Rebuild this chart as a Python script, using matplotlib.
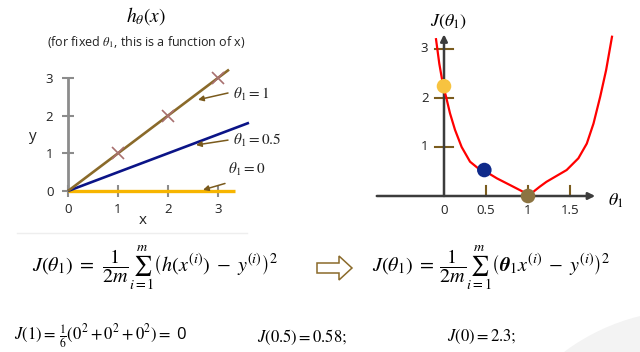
import matplotlib

matplotlib.use("Agg")
import matplotlib.pyplot as plt
from matplotlib.patches import FancyArrow, Circle

plt.rcParams["mathtext.fontset"] = "stix"
plt.rcParams["font.family"] = ["Open Sans", "DejaVu Sans"]

W, H = 640, 352

# --- datos: h_theta(x) para tres valores de theta1 ---
train_x = [1, 2, 3]
train_y = [1, 2, 3]
lines_x_end = {"1": 3.22, "0.5": 3.62, "0": 3.34}
slopes = {"1": 1.0, "0.5": 0.5, "0": 0.0}
line_colors = {"1": "#8a6a2a", "0.5": "#0b1487", "0": "#f7b500"}

# --- datos: curva de costo J(theta1) ---
theta_curve = [-0.095, -0.056, -0.008, 0.024, 0.071, 0.131, 0.21, 0.31, 0.41,
               0.476, 0.63, 0.79, 0.96, 1.0, 1.14, 1.22, 1.46, 1.6, 1.7,
               1.78, 1.86, 1.93, 2.0]
cost_curve = [3.2, 2.7, 2.23, 2.03, 1.69, 1.35, 1.0, 0.7, 0.56,
              0.52, 0.36, 0.22, 0.07, 0.0, 0.19, 0.29, 0.53, 0.77, 1.07,
              1.48, 2.03, 2.57, 3.25]
dot_theta = [0.0, 0.48, 1.0]
dot_cost = [2.24, 0.53, 0.0]
dot_colors = ["#f7c340", "#0f2a8a", "#8c7442"]
j_xticks = [0.5, 1, 1.5]
j_xlabels = ["0", "0.5", "1", "1.5"]
j_yticks = [1, 2, 3]


def fpos(x, y):
    """pixel (desde arriba-izquierda) -> fracción de figura."""
    return x / W, 1 - y / H


def add_axes_px(left, top, right, bottom):
    return fig.add_axes([left / W, 1 - bottom / H, (right - left) / W, (bottom - top) / H])


fig = plt.figure(figsize=(W / 100, H / 100), dpi=100)
fig.patch.set_facecolor("white")

# marca de agua gris clara (esquina inferior derecha)
fig.add_artist(Circle((6.9, (H - 520) / 100), 2.1, transform=fig.dpi_scale_trans,
                      facecolor="#f3f3f3", edgecolor="none", zorder=0))

# ================= gráfica izquierda =================
ax = add_axes_px(18, 55.3, 268, 228.7)
ax.set_xlim(-1, 4)
ax.set_ylim(-1, 3.6)
ax.patch.set_alpha(0)
for s in ["top", "right"]:
    ax.spines[s].set_visible(False)
ax.spines["bottom"].set_position(("data", 0))
ax.spines["bottom"].set_color("none")
ax.spines["left"].set_position(("data", 0))
ax.spines["left"].set_bounds(0, 3)
ax.spines["left"].set_color("#8c8c8c")
ax.spines["left"].set_linewidth(2)
ax.set_yticks([0, 1, 2, 3])
ax.set_xticks([0, 1, 2, 3])
ax.tick_params(axis="y", direction="inout", length=9, width=1.5, color="#8c8c8c",
               labelsize=9.5, pad=6, labelcolor="#222222")
ax.tick_params(axis="x", direction="inout", length=9, width=1.5, color="#8c8c8c",
               labelsize=9.5, pad=4, labelcolor="#222222")

for key in ["0", "0.5", "1"]:
    xe = lines_x_end[key]
    ax.plot([0, xe], [0, slopes[key] * xe], color=line_colors[key],
            lw=2.4 if key == "0" else 1.9, solid_capstyle="butt", zorder=3)
ax.plot(train_x, train_y, "x", color="#a8706f", ms=8, mew=1.2, zorder=4)

# (valor, punta de flecha, cola de flecha, posición del texto)
annot = [("1", (2.6, 2.42), (3.2, 2.6), (3.3, 2.55)),
         ("0.5", (2.56, 1.22), (3.2, 1.35), (3.3, 1.35)),
         ("0", (2.7, 0.03), (3.14, 0.2), (3.2, 0.56))]
for key, tip, tail, txt in annot:
    ax.annotate("", xy=tip, xytext=tail,
                arrowprops=dict(arrowstyle="-|>", color="#7a5a1c", lw=1.1,
                                mutation_scale=8, shrinkA=0, shrinkB=0))
    ax.text(*txt, r"$\theta_1 = %s$" % key, fontsize=11, va="center", ha="left",
            color="#222222")

fig.text(*fpos(143, 221), "x", fontsize=11, ha="center", va="center", color="#222222")
fig.text(*fpos(33, 137), "y", fontsize=11, ha="center", va="center", color="#222222")
fig.text(*fpos(146, 16), r"$h_\theta(x)$", fontsize=14, ha="center", va="center")
fig.text(*fpos(146, 42), r"(for fixed $\theta_1$, this is a function of x)",
         fontsize=9, ha="center", va="center", color="#222222")

# ================= gráfica derecha =================
bx = add_axes_px(360, 9.8, 628.8, 225.4)
bx.set_xlim(-1, 2.2)
bx.set_ylim(-0.6, 3.8)
bx.axis("off")

axis_kw = dict(arrowstyle="-|>", color="#3c3c3c", lw=1.8, mutation_scale=10,
               shrinkA=0, shrinkB=0)
bx.annotate("", xy=(1.8, 0), xytext=(-0.8, 0), arrowprops=axis_kw)
bx.annotate("", xy=(0, 3.3), xytext=(0, 0), arrowprops=axis_kw)

for t in j_yticks:
    bx.plot([-0.11, 0.11], [t, t], color="#7a5c1e", lw=1.5, zorder=2)
for t in j_xticks:
    bx.plot([t, t], [0, 0.2], color="#7a5c1e", lw=1.5, zorder=2)

bx.plot(theta_curve, cost_curve, color="#ff0000", lw=1.6, zorder=3)
bx.scatter(dot_theta, dot_cost, s=110, c=dot_colors, zorder=4, edgecolors="none")

for t in j_yticks:
    bx.text(-0.23, t, str(t), fontsize=9.5, ha="center", va="center", color="#222222")
for t, lab in zip([0] + j_xticks, j_xlabels):
    bx.text(t, -0.3, lab, fontsize=9.5, ha="center", va="center", color="#222222")
bx.text(2.05, -0.1, r"$\theta_1$", fontsize=13, ha="center", va="center")
bx.text(0.05, 3.55, r"$J(\theta_1)$", fontsize=13, ha="center", va="center")

# ================= fórmulas inferiores =================
fig.add_artist(plt.Line2D([17 / W, 247 / W], [1 - 233 / H] * 2, color="#eeeeee", lw=1))

fig.text(*fpos(32, 268),
         r"$J(\theta_1)\;=\;\,\dfrac{1}{2m}\sum_{i=1}^{m}\left(h\left(x^{(i)}\right)\;-\;y^{(i)}\right)^2$",
         fontsize=14.5, ha="left", va="center")
fig.text(*fpos(372, 268),
         r"$J(\theta_1)\;=\;\dfrac{1}{2m}\sum_{i=1}^{m}\left(\boldsymbol{\theta}_1 x^{(i)}\;-\;y^{(i)}\right)^2$",
         fontsize=14.5, ha="left", va="center")
fig.add_artist(FancyArrow(3.17, (H - 268) / 100, 0.22, 0, width=0.1, head_width=0.24,
                          head_length=0.13, length_includes_head=False,
                          transform=fig.dpi_scale_trans, facecolor="white",
                          edgecolor="#8a6a2a", lw=1.1))

fig.text(*fpos(14, 337), r"$J(1) = \,\frac{1}{6}(0^2 + 0^2 + 0^2) = $" + " 0",
         fontsize=12, ha="left", va="center")
fig.text(*fpos(257, 337), r"$J(0.5) = 0.58;$", fontsize=12, ha="left", va="center")
fig.text(*fpos(447, 337), r"$J(0) = 2.3;$", fontsize=12, ha="left", va="center")

fig.savefig("out.png", dpi=100, facecolor="white")
